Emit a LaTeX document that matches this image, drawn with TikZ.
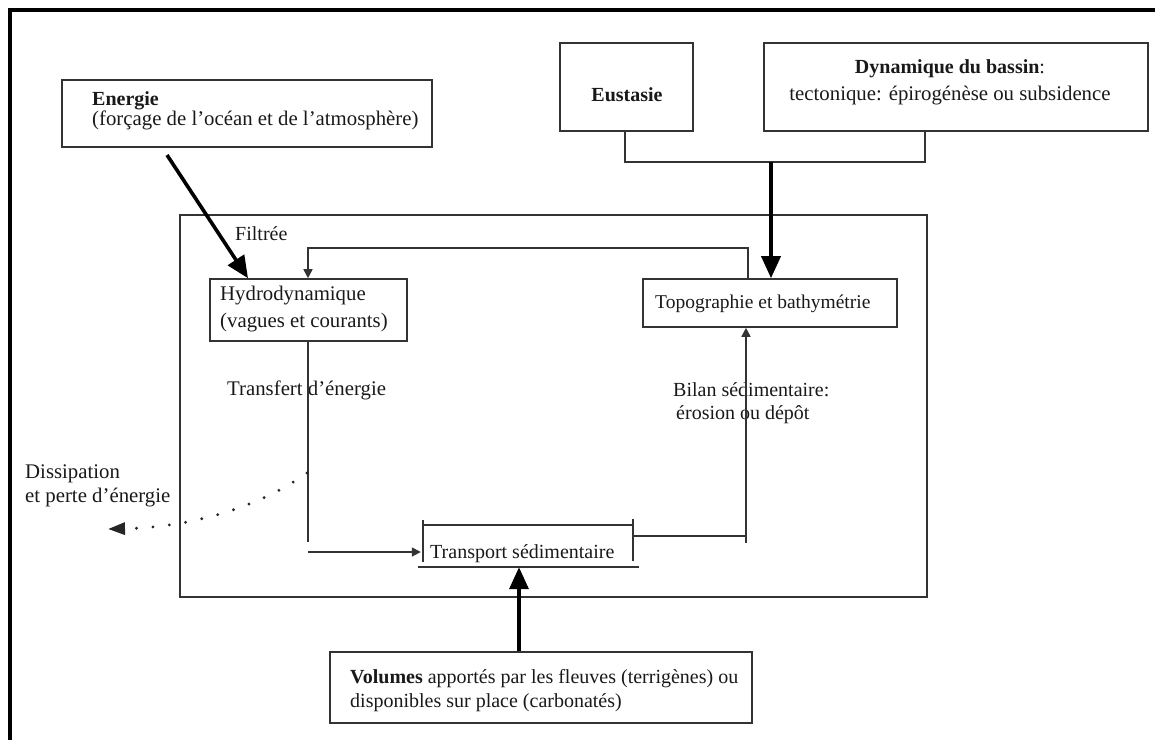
\documentclass[tikz,border=0pt]{standalone}
\usepackage{fontspec}
\setmainfont{Liberation Serif}
\usetikzlibrary{arrows.meta}
\tikzset{
  box/.style={draw=black!80, line width=1.6pt, inner sep=0pt},
  lbl/.style={font=\fontsize{20}{24}\selectfont, inner sep=0pt, anchor=base west, text=black!90},
  lblw/.style={font=\fontsize{20.8}{24}\selectfont, inner sep=0pt, anchor=base west, text=black!90},
  lblb/.style={font=\fontsize{20}{24}\selectfont\bfseries, inner sep=0pt, anchor=base west, text=black!90},
  conn/.style={draw=black!80, line width=1.6pt},
  bigarrow/.style={draw=black, line width=3.6pt, -{Triangle[length=22pt,width=19pt]}},
  smallarrow/.style={conn, -{Triangle[length=9pt,width=9pt]}},
}
\begin{document}
\begin{tikzpicture}[x=1pt,y=-1pt]
\useasboundingbox (0,0) rectangle (1155,740);
% outer frame
\draw[line width=4.5pt, black] (1155,10) -- (10,10) -- (10,740);

% boxes
\node[box, minimum width=370, minimum height=67] (energie) at (247,113.5) {};
\node[box, minimum width=133, minimum height=88] (eust) at (626.5,87) {};
\node[box, minimum width=384, minimum height=88] (dyn) at (956,87) {};
\node[box, minimum width=747, minimum height=382] (big) at (553.5,406) {};
\node[box, minimum width=197, minimum height=62] (hyd) at (308.5,310) {};
\node[box, minimum width=254, minimum height=48] (topo) at (770,303) {};
\node[box, minimum width=422, minimum height=71] (vol) at (541,687.5) {};
\node[inner sep=0pt, minimum width=215, minimum height=42] (tr) at (528.5,546) {};

% texts
\node[lblb] (en1) at (92,105) {Energie};
\node[lblw] (en2) at (92,125) {(forçage  de l’océan  et de l’atmosphère)};
\node[lblb, anchor=base] (eut) at (627,101) {Eustasie};
\node[lblb, anchor=base] (dy1) at (950,73) {Dynamique du bassin\textmd{:}};
\node[lblw, anchor=base] (dy2) at (950,100) {tectonique:  épirogénèse ou subsidence};
\node[lbl] (fil) at (235,240) {Filtrée};
\node[lblw] (hy1) at (220,300) {Hydrodynamique};
\node[lblw] (hy2) at (220,327) {(vagues et courants)};
\node[lbl, font=\fontsize{19.5}{24}\selectfont] (tpt) at (655,308) {Topographie et bathymétrie};
\node[lblw] (tfe) at (227,395) {Transfert d’énergie};
\node[lbl] (bi1) at (673,396) {Bilan sédimentaire:};
\node[lbl] (bi2) at (676,419) {érosion ou dépôt};
\node[lblw] (di1) at (25,478) {Dissipation};
\node[lblw] (di2) at (25,502) {et perte d’énergie};
\node[lbl] (trt) at (430,558) {Transport sédimentaire};
\node[lbl] (vo1) at (350,683) {\textbf{Volumes} apportés par les fleuves (terrigènes) ou};
\node[lbl] (vo2) at (350,707) {disponibles sur place (carbonatés)};

% transport frame lines
\draw[conn] (423,520) -- (423,562);
\draw[conn] (423,525) -- (633,525);
\draw[conn] (633,519) -- (633,561);
\draw[conn] (418,567) -- (639,567);

% coordinates
\coordinate (e1) at (167,155);
\coordinate (e2) at (248,0);
\coordinate (jl) at (625,162);
\coordinate (jr) at (925,162);
\coordinate (jm) at (771,162);
\coordinate (f1) at (748,248);
\coordinate (f2) at (308,248);
\coordinate (h1) at (308,542);
\coordinate (h2) at (308,552);
\coordinate (b1) at (633,536);
\coordinate (b2) at (746,536);
\coordinate (b3) at (746,543);
\coordinate (v1) at (519,0);
\coordinate (d0) at (307,473);
\coordinate (d1) at (108,529);

% connectors
\draw[bigarrow] (e1) -- (hyd.north -| e2);
\draw[conn] (eust.south -| jl) -- (jl) -- (jr) -- (dyn.south -| jr);
\draw[bigarrow] (jm) -- (topo.north -| jm);
\draw[smallarrow] (topo.north -| f1) -- (f1) -- (f2) -- (hyd.north -| f2);
\draw[conn] (hyd.south -| h1) -- (h1);
\draw[smallarrow] (h2) -- (h2 -| tr.west);
\draw[conn] (b1) -- (b2);
\draw[smallarrow] (b3) -- (topo.south -| b3);
\draw[bigarrow] (vol.north -| v1) -- (tr.south -| v1);
\draw[black!85, line width=3.2pt, line cap=round, dash pattern=on 0pt off 16.5pt,
      -{Triangle[length=17pt,width=12pt]}]
  (d0) .. controls (265,503) and (200,527) .. (d1);
\end{tikzpicture}
\end{document}
